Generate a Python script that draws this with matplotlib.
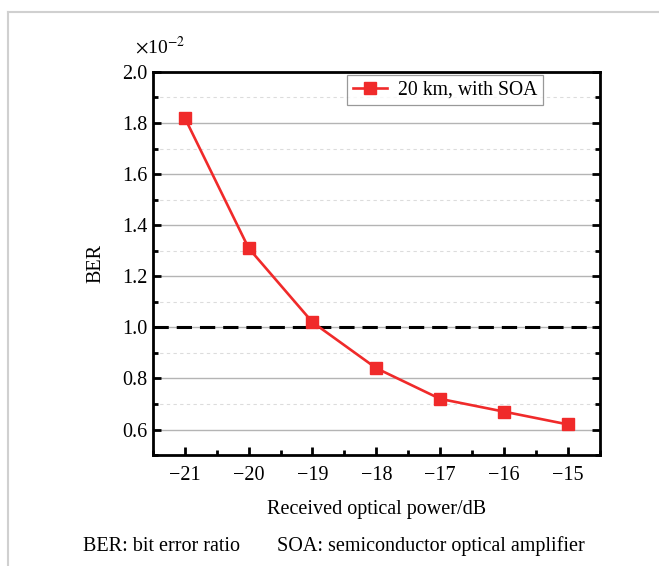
import matplotlib
matplotlib.use("Agg")
import matplotlib.pyplot as plt
from matplotlib.ticker import MultipleLocator
from matplotlib.lines import Line2D

plt.rcParams['font.family'] = ['Liberation Serif', 'DejaVu Serif']
plt.rcParams['mathtext.fontset'] = 'stix'

power = [-21, -20, -19, -18, -17, -16, -15]
ber = [1.82, 1.31, 1.02, 0.84, 0.72, 0.67, 0.62]
threshold = 1.0
series_label = "20 km, with SOA"
xlabel = "Received optical power/dB"
ylabel = "BER"
caption_left = "BER: bit error ratio"
caption_right = "SOA: semiconductor optical amplifier"
yticks = [0.6, 0.8, 1.0, 1.2, 1.4, 1.6, 1.8, 2.0]

fig = plt.figure(figsize=(6.59, 5.66), dpi=100)
ax = fig.add_axes([0.232, 0.196, 0.678, 0.677])

ax.set_xlim(-21.5, -14.5)
ax.set_ylim(0.5, 2.0)
ax.set_xticks(power)
ax.set_xticklabels([f"\u2212{abs(v)}" for v in power])
ax.xaxis.set_minor_locator(MultipleLocator(0.5))
ax.set_yticks(yticks)
ax.set_yticklabels([f"{v:.1f}" for v in yticks])
ax.yaxis.set_minor_locator(MultipleLocator(0.1))

ax.grid(which='major', axis='y', color='#b4b4b4', lw=1.0)
ax.grid(which='minor', axis='y', color='#dcdcdc', lw=0.8, ls=(0, (3, 3)))
ax.grid(which='major', axis='x', visible=False)
ax.set_axisbelow(True)

ax.axhline(threshold, color='black', lw=2.2, ls=(0, (5, 2.6)), zorder=2)
ax.plot(power, ber, color='#f02a2a', lw=1.9, marker='s', markersize=8.5,
        markeredgecolor='#f02a2a', markerfacecolor='#f02a2a', label=series_label, zorder=3)

for s in ax.spines.values():
    s.set_linewidth(2.0)
ax.tick_params(which='both', direction='in', left=True, right=True, top=False, bottom=True,
               labelsize=14.5, width=2.0, colors='black')
ax.tick_params(which='major', length=6)
ax.tick_params(which='minor', length=3.5)
ax.tick_params(axis='x', which='major', pad=8)
ax.tick_params(axis='y', which='major', pad=4)

ax.set_xlabel(xlabel, fontsize=14.5, labelpad=11)
ax.set_ylabel(ylabel, fontsize=14.5, labelpad=12)

leg = ax.legend(loc='upper right', bbox_to_anchor=(0.873, 0.993), borderaxespad=0,
                fancybox=False, edgecolor='#808080', fontsize=14.2, handlelength=1.7,
                borderpad=0.3, handletextpad=0.55)
leg.get_frame().set_linewidth(0.9)

fig.text(0.205, 0.917, r"$\times$10$^{-2}$", fontsize=14, ha='left', va='center')
fig.text(83/659, 0.035, caption_left, fontsize=14.5, ha='left', va='center')
fig.text(277/659, 0.035, caption_right, fontsize=14.5, ha='left', va='center')

fig.add_artist(Line2D([8/659, 8/659], [0, 1 - 12/566], color='#d0d0d0', lw=1.5))
fig.add_artist(Line2D([8/659, 1], [1 - 12/566, 1 - 12/566], color='#d0d0d0', lw=1.5))

fig.savefig("out.png", dpi=100)
